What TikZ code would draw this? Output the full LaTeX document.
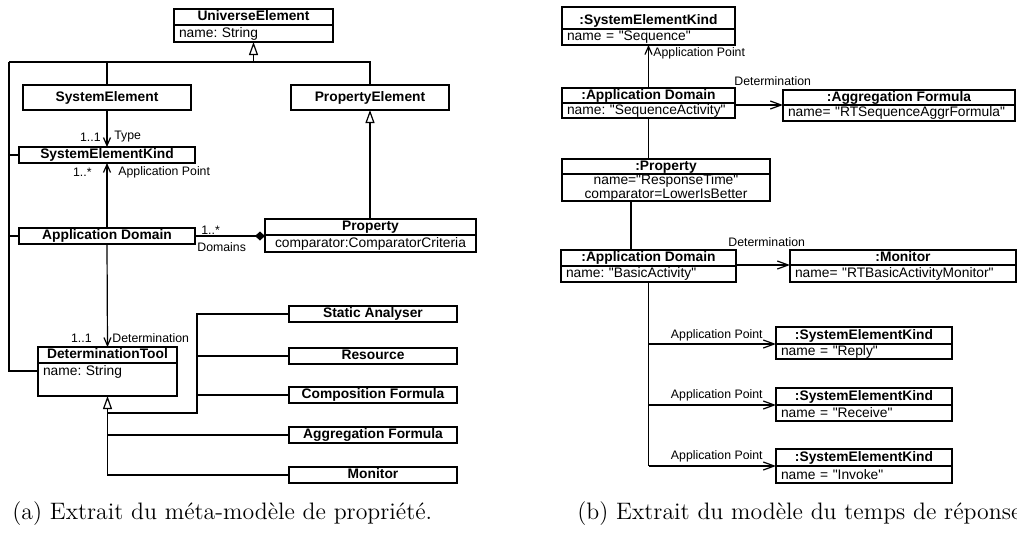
\documentclass[tikz,border=0pt]{standalone}
\usepackage{fontspec}
\usepackage{tikz}
\usetikzlibrary{arrows.meta,positioning}
\newfontfamily\umlfont{Liberation Sans}
\tikzset{
  cls/.style={draw, line width=0.8pt, inner sep=0pt, outer sep=0pt, minimum height=8pt,
    text height=5pt, text depth=1.5pt, font=\umlfont\fontsize{6.9}{8}\selectfont\bfseries},
  att/.style={draw, line width=0.8pt, inner xsep=2.5pt, inner ysep=0pt, outer sep=0pt,
    minimum height=8.5pt, align=left, font=\umlfont\fontsize{6.9}{7}\selectfont},
  lbl/.style={inner sep=0pt, font=\umlfont\fontsize{6.15}{7}\selectfont},
  capt/.style={inner sep=0pt, anchor=west, font=\fontsize{11.9}{14}\selectfont},
  inherit/.style={line width=0.6pt, -{Triangle[open, length=6.5pt, width=4.5pt]}},
  assoc/.style={line width=0.6pt, -{Straight Barb[length=4pt, width=3.5pt]}},
  rassoc/.style={line width=0.6pt, -{Straight Barb[length=5.5pt, width=4pt]}},
  compos/.style={line width=0.6pt, -{Diamond[length=5pt, width=4.5pt]}},
  link/.style={line width=0.6pt}
}
\begin{document}
\frenchspacing
\begin{tikzpicture}[x=0.5pt, y=-0.5pt]
    \useasboundingbox (0,0) rectangle (1017,532);
    % meta-model
    \node[cls, minimum width=79.5pt] (ue) at (253.5,17) {UniverseElement};
    \node[att, text width=74.5pt, below=0pt of ue] (ue-a) {name: String};
    \node[cls, minimum width=84pt, minimum height=12.5pt] (se) at (107,97.5) {SystemElement};
    \node[cls, minimum width=79pt, minimum height=12.5pt] (pe) at (370,97.5) {PropertyElement};
    \node[cls, minimum width=88pt] (sek) at (107,155) {SystemElementKind};
    \node[cls, minimum width=88pt] (ad) at (107,236) {Application Domain};
    \node[cls, minimum width=105.5pt] (pr) at (370.5,227) {Property};
    \node[att, text width=100.5pt, align=center, below=0pt of pr] (pr-a) {comparator:ComparatorCriteria};
    \node[cls, minimum width=69.5pt] (dt) at (107.5,355) {DeterminationTool};
    \node[att, text width=64.5pt, text height=6pt, text depth=10.5pt, below=0pt of dt] (dt-a) {name: String};
    \node[cls, minimum width=84pt] (sa) at (373,314) {Static Analyser};
    \node[cls, minimum width=84pt] (rs) at (373,356) {Resource};
    \node[cls, minimum width=84pt] (cf) at (373,395) {Composition Formula};
    \node[cls, minimum width=84pt] (ag) at (373,435) {Aggregation Formula};
    \node[cls, minimum width=84pt] (mo) at (373,475) {Monitor};

    \coordinate (lft) at (9,62);
    \coordinate (lbot) at (9,371);
    \draw[inherit] (ue-a.south |- lft) -- (ue-a.south);
    \draw[link] (lft) -| (pe.north);
    \draw[link] (se.north) -- (se.north |- lft);
    \draw[link] (lft) -- (lbot) -- (lbot -| dt-a.west);
    \draw[link] (lft |- sek.west) -- (sek.west);
    \draw[link] (lft |- ad.west) -- (ad.west);

    \draw[assoc] (se.south) -- (sek.north);
    \node[lbl, anchor=east] at (101,137) {1..1};
    \node[lbl, anchor=west] at (114,137) {Type};
    \draw[assoc] (ad.north) -- (sek.south);
    \node[lbl, anchor=east] at (92,172) {1..*};
    \node[lbl, anchor=west] at (118,172) {Application Point};
    \draw[compos] (ad.east) -- (ad.east -| pr.west);
    \node[lbl, anchor=west] at (201,230) {1..*};
    \node[lbl, anchor=west] at (197,247) {Domains};
    \draw[inherit] (pe.south |- pr.north) -- (pe.south);
    \draw[assoc] (ad.south) -- (dt.north);
    \node[lbl, anchor=east] at (92,338) {1..1};
    \node[lbl, anchor=west] at (112,338) {Determination};

    \coordinate (dtb) at (107.5,413);
    \coordinate (jn) at (197,413);
    \draw[inherit] (dtb) -- (dt-a.south);
    \draw[link] (dtb) |- (mo.west);
    \draw[link] (dtb |- ag.west) -- (ag.west);
    \draw[link] (dtb) -- (jn) |- (sa.west);
    \draw[link] (jn |- rs.west) -- (rs.west);
    \draw[link] (jn |- cf.west) -- (cf.west);

    \node[capt] (cap-a) at (12,514) {(a) Extrait du méta-modèle de propriété.};

    % response time model
    \node[cls, minimum width=86.5pt, minimum height=11pt, text height=7pt, text depth=0.5pt] (seks) at (648.5,18) {:SystemElementKind};
    \node[att, text width=81.5pt, minimum height=8pt, below=0pt of seks] (seks-a) {name = "Sequence"};
    \node[cls, minimum width=86.5pt, minimum height=7.5pt] (ads) at (648.5,95.5) {:Application Domain};
    \node[att, text width=81.5pt, minimum height=7.5pt, below=0pt of ads] (ads-a) {name: "SequenceActivity"};
    \node[cls, minimum width=116pt, minimum height=7.5pt] (agf) at (899,97.5) {:Aggregation Formula};
    \node[att, text width=111pt, minimum height=8pt, below=0pt of agf] (agf-a) {name= "RTSequenceAggrFormula"};
    \node[cls, minimum width=104pt, minimum height=7.5pt] (prr) at (666,166.5) {:Property};
    \node[att, text width=99pt, minimum height=13pt, align=center, font=\umlfont\fontsize{6.9}{6}\selectfont,
      below=0pt of prr] (prr-a) {name="ResponseTime"\\comparator=LowerIsBetter};
    \node[cls, minimum width=87.5pt] (adb) at (648.5,258) {:Application Domain};
    \node[att, text width=82.5pt, minimum height=8pt, below=0pt of adb] (adb-a) {name: "BasicActivity"};
    \node[cls, minimum width=113pt, minimum height=7.5pt] (mon) at (903,257.5) {:Monitor};
    \node[att, text width=108pt, below=0pt of mon] (mon-a) {name= "RTBasicActivityMonitor"};
    \node[cls, minimum width=88pt, minimum height=8.5pt] (rep) at (864,335.5) {:SystemElementKind};
    \node[att, text width=83pt, minimum height=7.5pt, below=0pt of rep] (rep-a) {name = "Reply"};
    \node[cls, minimum width=88pt, minimum height=8.5pt] (rec) at (864,396.5) {:SystemElementKind};
    \node[att, text width=83pt, minimum height=8pt, below=0pt of rec] (rec-a) {name = "Receive"};
    \node[cls, minimum width=88pt, minimum height=8.5pt] (inv) at (864,457.5) {:SystemElementKind};
    \node[att, text width=83pt, below=0pt of inv] (inv-a) {name = "Invoke"};

    \coordinate (pl) at (631,0);
    \draw[assoc] (ads.north) -- (seks-a.south);
    \node[lbl, anchor=west] at (653,53) {Application Point};
    \draw[rassoc] (ads.east |- agf-a.north) -- (agf-a.north west);
    \node[lbl, anchor=west] at (734,81) {Determination};
    \draw[link] (ads-a.south) -- (ads-a.south |- prr.north);
    \draw[link] (pl |- prr-a.south) -- (pl |- adb.north);
    \draw[rassoc] (adb.east |- mon-a.north) -- (mon-a.north west);
    \node[lbl, anchor=west] at (728,242) {Determination};
    \draw[link] (adb-a.south) -- (adb-a.south |- inv-a.north);
    \draw[rassoc] (adb-a.south |- rep-a.north) -- (rep-a.north west);
    \node[lbl, anchor=east] at (763,335) {Application Point};
    \draw[rassoc] (adb-a.south |- rec-a.north) -- (rec-a.north west);
    \node[lbl, anchor=east] at (763,395) {Application Point};
    \draw[rassoc] (adb-a.south |- inv-a.north) -- (inv-a.north west);
    \node[lbl, anchor=east] at (763,456) {Application Point};

    \node[capt] (cap-b) at (577,514) {(b) Extrait du modèle du temps de réponse};
\end{tikzpicture}
\end{document}
